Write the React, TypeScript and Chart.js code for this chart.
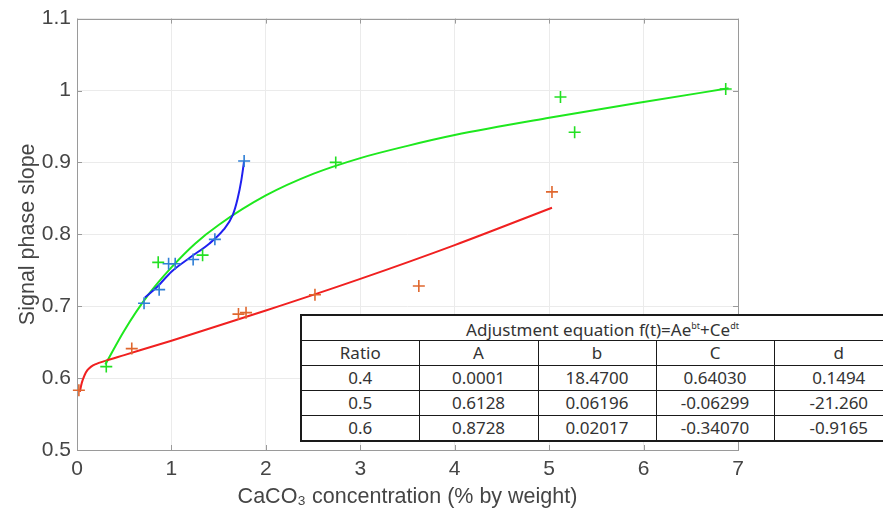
import React, { useEffect, useRef } from "react";
import { Chart, registerables } from "chart.js";

Chart.register(...registerables);

// Measured points (ratio 0.4 / 0.5 / 0.6)
const blueX = [0.71, 0.87, 0.97, 1.04, 1.23, 1.46, 1.77];
const blueY = [0.704, 0.723, 0.759, 0.759, 0.765, 0.793, 0.902];
const redX = [0.02, 0.58, 1.71, 1.79, 2.52, 3.62, 5.03];
const redY = [0.583, 0.641, 0.689, 0.691, 0.716, 0.728, 0.859];
const greenX = [0.31, 0.86, 1.33, 2.74, 5.12, 5.27, 6.87];
const greenY = [0.616, 0.761, 0.771, 0.9, 0.991, 0.942, 1.002];

// Fitted curves
const blueFitX = [0.72, 0.85, 1.0, 1.2, 1.4, 1.55, 1.65, 1.7, 1.74, 1.77];
const blueFitY = [0.712, 0.727, 0.748, 0.768, 0.787, 0.806, 0.827, 0.849, 0.875, 0.902];
const redFitX = [0.03, 0.05, 0.08, 0.11, 0.15, 0.2, 0.3, 0.5, 1, 2, 3, 4, 5.03];
const redFitY = [0.581, 0.593, 0.604, 0.611, 0.616, 0.6195, 0.624, 0.632, 0.652, 0.694, 0.738, 0.785, 0.837];
const greenFitX = [0.3, 0.5, 0.75, 1, 1.25, 1.5, 2, 2.5, 3, 3.5, 4, 5, 6, 6.9];
const greenFitY = [0.619, 0.666, 0.715, 0.754, 0.787, 0.813, 0.854, 0.884, 0.906, 0.923, 0.938, 0.962, 0.984, 1.003];

const xTicks = [0, 1, 2, 3, 4, 5, 6, 7];
const yTicks = [0.5, 0.6, 0.7, 0.8, 0.9, 1, 1.1];

// Table contents
const tableTitle = "Adjustment equation f(t)=Ae";
const tableHeader = ["Ratio", "A", "b", "C", "d"];
const tableRows = [
  ["0.4", "0.0001", "18.4700", "0.64030", "0.1494"],
  ["0.5", "0.6128", "0.06196", "-0.06299", "-21.260"],
  ["0.6", "0.8728", "0.02017", "-0.34070", "-0.9165"],
];

const pts = (xs: number[], ys: number[]) => xs.map((x, i) => ({ x, y: ys[i] }));

const boxPlugin = {
  id: "box",
  beforeDatasetsDraw(chart: any) {
    const { ctx, chartArea: a, scales } = chart;
    ctx.save();
    ctx.strokeStyle = "#9a9a9a";
    ctx.lineWidth = 1;
    ctx.beginPath();
    const t = 5;
    xTicks.forEach((v) => {
      const px = Math.round(scales.x.getPixelForValue(v)) + 0.5;
      ctx.moveTo(px, a.bottom);
      ctx.lineTo(px, a.bottom - t);
      ctx.moveTo(px, a.top);
      ctx.lineTo(px, a.top + t);
    });
    yTicks.forEach((v) => {
      const py = Math.round(scales.y.getPixelForValue(v)) + 0.5;
      ctx.moveTo(a.left, py);
      ctx.lineTo(a.left + t, py);
      ctx.moveTo(a.right, py);
      ctx.lineTo(a.right - t, py);
    });
    ctx.stroke();
    ctx.strokeRect(Math.round(a.left) + 0.5, Math.round(a.top) + 0.5, Math.round(a.right - a.left), Math.round(a.bottom - a.top));
    ctx.restore();
  },
};

export default function App() {
  const ref = useRef<HTMLCanvasElement>(null);
  useEffect(() => {
    const font = "'Liberation Sans', Arial, sans-serif";
    const chart = new Chart(ref.current as HTMLCanvasElement, {
      type: "scatter",
      data: {
        datasets: [
          { label: "b pts", data: pts(blueX, blueY), pointStyle: "cross", pointRadius: 6, borderColor: "#2f7fd6", borderWidth: 1.6, showLine: false, order: 1, clip: false },
          { label: "r pts", data: pts(redX, redY), pointStyle: "cross", pointRadius: 6, borderColor: "#e0672e", borderWidth: 1.6, showLine: false, order: 1, clip: false },
          { label: "g pts", data: pts(greenX, greenY), pointStyle: "cross", pointRadius: 6, borderColor: "#22e022", borderWidth: 1.6, showLine: false, order: 1, clip: false },
          { label: "g fit", data: pts(greenFitX, greenFitY), showLine: true, pointRadius: 0, borderColor: "#1ee81e", borderWidth: 2, cubicInterpolationMode: "monotone", order: 4 },
          { label: "b fit", data: pts(blueFitX, blueFitY), showLine: true, pointRadius: 0, borderColor: "#2020f0", borderWidth: 2, cubicInterpolationMode: "monotone", order: 3 },
          { label: "r fit", data: pts(redFitX, redFitY), showLine: true, pointRadius: 0, borderColor: "#f02020", borderWidth: 2, cubicInterpolationMode: "monotone", order: 2 },
        ],
      },
      options: {
        animation: false,
        responsive: false,
        maintainAspectRatio: false,
        layout: { padding: { left: 0, right: 145, top: 14, bottom: 0 } },
        plugins: { legend: { display: false }, tooltip: { enabled: false } },
        scales: {
          x: {
            type: "linear",
            min: 0,
            max: 7,
            afterBuildTicks: (s: any) => { s.ticks = xTicks.map((v) => ({ value: v })); },
            afterFit: (s: any) => { s.height = 71; },
            grid: { color: "#ebebeb", drawTicks: false },
            border: { display: false },
            ticks: { color: "#454545", font: { family: font, size: 21 }, padding: 7, maxRotation: 0 },
            title: { display: true, text: "CaCO\u2083 concentration (% by weight)", color: "#454545", font: { family: font, size: 21.5 }, padding: { top: 0, bottom: 11 } },
          },
          y: {
            type: "linear",
            min: 0.5,
            max: 1.1,
            afterBuildTicks: (s: any) => { s.ticks = yTicks.map((v) => ({ value: v })); },
            afterFit: (s: any) => { s.width = 77; },
            grid: { color: "#ebebeb", drawTicks: false },
            border: { display: false },
            ticks: { color: "#454545", font: { family: font, size: 21 }, padding: 6, callback: (v: any) => String(Math.round(v * 10) / 10) },
            title: { display: true, text: "Signal phase slope", color: "#454545", font: { family: font, size: 21.5 }, padding: { top: 15, bottom: 0 } },
          },
        },
      },
      plugins: [boxPlugin],
    } as any);
    return () => chart.destroy();
  }, []);

  const cellStyle: React.CSSProperties = {
    border: "1.5px solid #1a1a1a",
    padding: 0,
    textAlign: "center",
    height: 24,
    fontSize: 17,
    lineHeight: "20px",
    color: "#333",
  };
  const colW = [118, 119, 118, 118, 130];

  return (
    <div style={{ position: "absolute", left: 0, top: 0, width: 883, height: 521, background: "#fff", overflow: "hidden" }}>
      <canvas ref={ref} width={883} height={521} style={{ display: "block" }} />
      <table
        style={{
          position: "absolute",
          left: 300,
          top: 314,
          width: 603,
          borderCollapse: "collapse",
          background: "#fff",
          fontFamily: "'Noto Sans', 'Liberation Sans', sans-serif",
          border: "2px solid #1a1a1a",
          tableLayout: "fixed",
        }}
      >
        <colgroup>
          {colW.map((w, i) => (
            <col key={i} style={{ width: w }} />
          ))}
        </colgroup>
        <tbody>
          <tr>
            <td colSpan={5} style={{ ...cellStyle, height: 23 }}>
              {tableTitle}
              <sup style={{ fontSize: 9 }}>bt</sup>+Ce<sup style={{ fontSize: 9 }}>dt</sup>
            </td>
          </tr>
          <tr>
            {tableHeader.map((h, i) => (
              <td key={i} style={cellStyle}>{h}</td>
            ))}
          </tr>
          {tableRows.map((r, ri) => (
            <tr key={ri}>
              {r.map((c, ci) => (
                <td key={ci} style={cellStyle}>{c}</td>
              ))}
            </tr>
          ))}
        </tbody>
      </table>
    </div>
  );
}
